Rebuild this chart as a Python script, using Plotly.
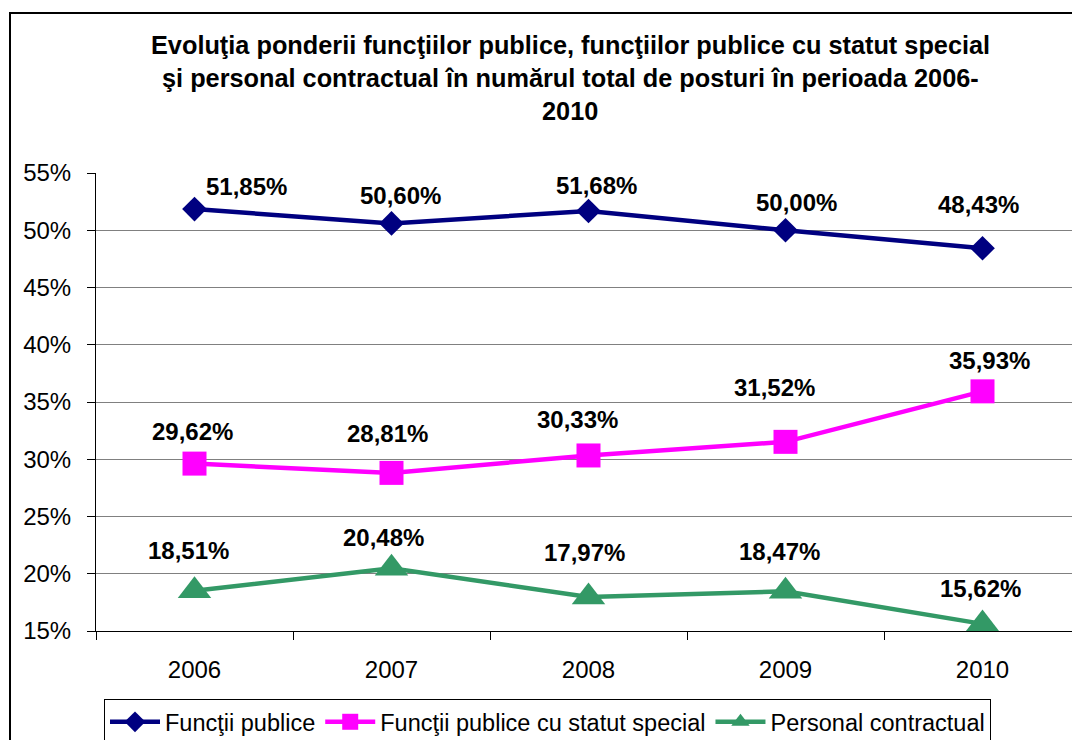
import plotly.graph_objects as go

# Share of each post category in the total number of posts, 2006-2010 (%)
years = ["2006", "2007", "2008", "2009", "2010"]
functii_publice = [51.85, 50.60, 51.68, 50.00, 48.43]
functii_statut_special = [29.62, 28.81, 30.33, 31.52, 35.93]
personal_contractual = [18.51, 20.48, 17.97, 18.47, 15.62]

series_names = [
    "Funcţii publice",
    "Funcţii publice cu statut special",
    "Personal contractual",
]
y_ticks = [15, 20, 25, 30, 35, 40, 45, 50, 55]

title_lines = [
    "Evoluţia ponderii funcţiilor publice, funcţiilor publice cu statut special",
    "şi personal contractual în numărul total de posturi în perioada 2006-",
    "2010",
]

PCT = "&#37;"  # percent sign as an HTML entity

# ---- page geometry (pixels) ----
W, H = 1072, 740
M_L, M_R, M_T, M_B = 96, 0, 173, 109
PLOT_W = W - M_L - M_R
PLOT_H = H - M_T - M_B
FONT = "Liberation Sans, Arial, sans-serif"


def paper_x(px):
    return (px - M_L) / PLOT_W


def paper_y(py):
    return (H - M_B - py) / PLOT_H


styles = [
    dict(color="#000080", symbol="diamond", size=19),
    dict(color="#FF00FF", symbol="square", size=24),
    dict(color="#339966", symbol="triangle-up", size=29),
]
series_values = [functii_publice, functii_statut_special, personal_contractual]

# Label offsets (x, y) in pixels relative to each point
label_offsets = [
    [(52, 23), (9, 28), (8, 26), (11, 28), (-4, 44)],
    [(-2, 32), (-4, 39), (-11, 36), (-11, 54), (7, 31)],
    [(-6, 40), (-8, 31), (-4, 44), (-6, 40), (-2, 35)],
]

fig = go.Figure()
annotations = []
for name, vals, st, offs in zip(series_names, series_values, styles, label_offsets):
    fig.add_trace(
        go.Scatter(
            x=years,
            y=vals,
            name=name,
            mode="lines+markers",
            line=dict(color=st["color"], width=4.5),
            marker=dict(color=st["color"], symbol=st["symbol"], size=st["size"]),
            cliponaxis=False,
        )
    )
    for i, (v, (dx, dy)) in enumerate(zip(vals, offs)):
        annotations.append(
            dict(
                x=i,
                y=v,
                xref="x",
                yref="y",
                text="<b>" + f"{v:.2f}".replace(".", ",") + PCT + "</b>",
                showarrow=False,
                xanchor="center",
                yanchor="middle",
                xshift=dx,
                yshift=dy,
                font=dict(family=FONT, size=24, color="black"),
            )
        )

# Chart title, one annotation per line
for line, py in zip(title_lines, [45, 78, 111]):
    annotations.append(
        dict(
            x=paper_x(570),
            y=paper_y(py),
            xref="paper",
            yref="paper",
            text=f"<b>{line}</b>",
            showarrow=False,
            xanchor="center",
            yanchor="middle",
            font=dict(family=FONT, size=25.3, color="black"),
        )
    )

# Outer chart frame
shapes = [
    dict(
        type="rect",
        xref="paper",
        yref="paper",
        x0=paper_x(10),
        x1=paper_x(W + 20),
        y0=paper_y(H + 20),
        y1=paper_y(13),
        line=dict(color="black", width=2),
        fillcolor="rgba(0,0,0,0)",
        layer="below",
    )
]

fig.update_layout(
    width=W,
    height=H,
    margin=dict(l=M_L, r=M_R, t=M_T, b=M_B, pad=0, autoexpand=False),
    paper_bgcolor="white",
    plot_bgcolor="white",
    font=dict(family=FONT, color="black"),
    showlegend=True,
    legend=dict(
        orientation="h",
        x=paper_x(104),
        y=paper_y(699),
        xanchor="left",
        yanchor="top",
        bordercolor="black",
        borderwidth=1,
        bgcolor="white",
        font=dict(family=FONT, size=23.5, color="black"),
        itemwidth=50,
        tracegroupgap=0,
    ),
    annotations=annotations,
    shapes=shapes,
    xaxis=dict(
        type="category",
        range=[-0.5, (W - M_R - M_L) / 197 - 0.5],
        showgrid=False,
        showline=True,
        linecolor="black",
        linewidth=1,
        ticks="outside",
        tickson="boundaries",
        ticklen=8,
        tickcolor="black",
        tickfont=dict(family=FONT, size=24, color="black"),
        ticklabelstandoff=17,
        zeroline=False,
    ),
    yaxis=dict(
        range=[15, 55],
        tickvals=y_ticks,
        ticktext=[f"{t}{PCT}" for t in y_ticks],
        showgrid=True,
        gridcolor="#808080",
        gridwidth=1,
        showline=True,
        linecolor="black",
        linewidth=1,
        ticks="outside",
        ticklen=8,
        tickcolor="black",
        tickfont=dict(family=FONT, size=24, color="black"),
        ticklabelstandoff=11,
        zeroline=False,
    ),
)

fig.write_html("out.html")
